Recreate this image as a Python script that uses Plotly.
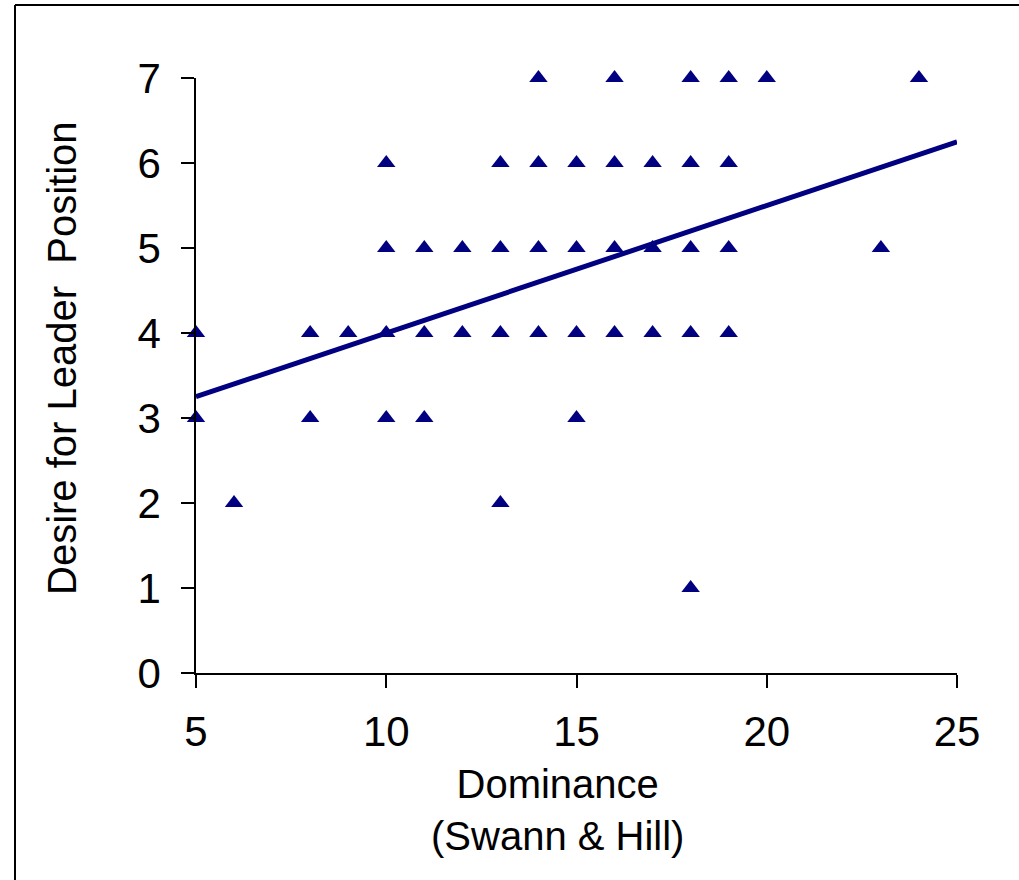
import plotly.graph_objects as go

# Data
dominance = [14, 16, 18, 19, 20, 24,
             10, 13, 14, 15, 16, 17, 18, 19,
             10, 11, 12, 13, 14, 15, 16, 17, 18, 19, 23,
             5, 8, 9, 10, 11, 12, 13, 14, 15, 16, 17, 18, 19,
             5, 8, 10, 11, 15,
             6, 13,
             18]
desire = [7] * 6 + [6] * 8 + [5] * 11 + [4] * 13 + [3] * 5 + [2] * 2 + [1]

trend_x = [5, 25]
trend_y = [3.25, 6.25]

x_ticks = [5, 10, 15, 20, 25]
y_ticks = [0, 1, 2, 3, 4, 5, 6, 7]

x_title = "Dominance<br>(Swann & Hill)"
y_title = "Desire for Leader\u00a0 Position"

NAVY = "#000080"
W, H = 1019, 880
L, R, T, B = 196, 62, 78, 207
pw, ph = W - L - R, H - T - B


def px_x(p):
    return (p - L) / pw


def px_y(p):
    return (H - B - p) / ph


fig = go.Figure()
fig.add_trace(go.Scatter(
    x=trend_x, y=trend_y, mode="lines",
    line=dict(color=NAVY, width=5), hoverinfo="skip", showlegend=False,
    cliponaxis=False,
))
fig.add_trace(go.Scatter(
    x=dominance, y=desire, mode="markers",
    marker=dict(symbol="triangle-up", size=16, color=NAVY, line=dict(width=0)),
    showlegend=False, cliponaxis=False,
))

axis_font = dict(family="Liberation Sans, Arial, sans-serif", size=42, color="black")

fig.update_xaxes(
    range=[5, 25], tickvals=x_ticks, showgrid=False, zeroline=False,
    showline=True, linecolor="black", linewidth=1.5,
    ticks="outside", ticklen=13, tickwidth=1.5, tickcolor="black",
    tickfont=axis_font, ticklabelstandoff=8,
)
fig.update_yaxes(
    range=[0, 7], tickvals=y_ticks, showgrid=False, zeroline=False,
    showline=True, linecolor="black", linewidth=1.5,
    ticks="outside", ticklen=13, tickwidth=1.5, tickcolor="black",
    tickfont=axis_font, ticklabelstandoff=12,
)

title_font = dict(family="Liberation Sans, Arial, sans-serif", size=40, color="black")

fig.add_annotation(
    text=x_title, xref="paper", yref="paper",
    x=px_x(557), y=px_y(810), xanchor="center", yanchor="middle",
    showarrow=False, font=title_font, align="center",
)
fig.add_annotation(
    text=y_title, xref="paper", yref="paper",
    x=px_x(62), y=px_y(358), xanchor="center", yanchor="middle",
    textangle=-90, showarrow=False, font=title_font,
)

# Frame lines (top and left) of the original picture
fig.add_shape(type="line", xref="paper", yref="paper",
              x0=px_x(15), y0=px_y(5), x1=px_x(W + 5), y1=px_y(5),
              line=dict(color="black", width=2))
fig.add_shape(type="line", xref="paper", yref="paper",
              x0=px_x(15), y0=px_y(5), x1=px_x(15), y1=px_y(H + 5),
              line=dict(color="black", width=2))

fig.update_layout(
    width=W, height=H,
    margin=dict(l=L, r=R, t=T, b=B),
    paper_bgcolor="white", plot_bgcolor="white",
    showlegend=False,
)

fig.write_html("out.html", config={"displayModeBar": False},
               post_script="document.body.style.margin='0px';")
